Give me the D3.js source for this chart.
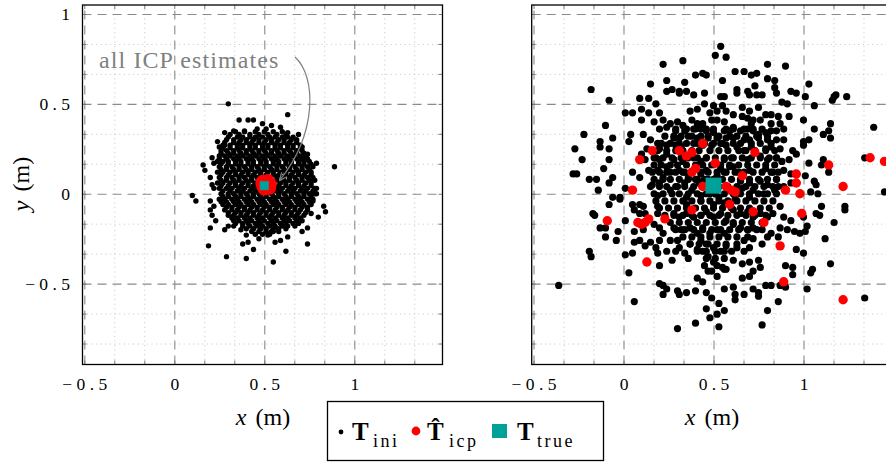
<!DOCTYPE html>
<html><head><meta charset="utf-8">
<script src="https://cdn.jsdelivr.net/npm/d3@7"></script>
<style>body{margin:0;background:#fff}svg{display:block}svg text{font-family:"Liberation Serif","Times New Roman",serif}</style>
</head><body><svg id="c" width="886" height="464"></svg>
<script>
// ---------------- data ----------------
const xDomain = [-0.51, 1.49];
const yDomain = [-0.95, 1.05];
const majorTicks = [-0.5, 0, 0.5, 1];
const majorTickLabels = ["\u2212 0 . 5", "0", "0 . 5", "1"];
const minorTicksX = [-0.8333, -0.6667, -0.3333, -0.1667, 0.1667, 0.3333, 0.6667, 0.8333, 1.1667, 1.3333];
const minorTicksY = [-0.8333, -0.6667, -0.3333, -0.1667, 0.1667, 0.3333, 0.6667, 0.8333];
const trueT = [[0.5, 0.045]];

// left panel: ICP estimates all collapse at the true pose
const leftIcp = [[0.50,0.05],[0.52,0.06],[0.49,0.04],[0.53,0.04],[0.51,0.07],[0.51,0.03],[0.52,0.05],[0.485,0.06],[0.535,0.055],[0.50,0.025],[0.52,0.075],[0.49,0.07],[0.53,0.03]];
// left panel: initial guesses, scattered outliers
const leftIniOuter = [[0.30,0.50],[0.63,0.44],[0.36,0.41],[0.41,0.41],[0.44,0.41],[0.49,0.39],[0.54,0.38],[0.59,0.37],[0.28,0.34],[0.33,0.35],[0.39,0.35],[0.46,0.36],[0.51,0.36],[0.63,0.34],[0.69,0.33],[0.24,0.29],[0.25,0.26],[0.28,0.27],[0.71,0.26],[0.74,0.22],[0.73,0.19],[0.79,0.17],[0.75,0.13],[0.89,0.15],[0.16,0.16],[0.17,0.13],[0.21,0.20],[0.22,0.17],[0.20,0.09],[0.21,0.05],[0.22,0.03],[0.10,-0.01],[0.12,-0.04],[0.79,0.03],[0.79,0.00],[0.77,-0.04],[0.83,-0.07],[0.84,-0.10],[0.80,-0.13],[0.76,-0.11],[0.74,-0.19],[0.71,-0.21],[0.63,-0.24],[0.59,-0.26],[0.56,-0.27],[0.74,-0.28],[0.20,-0.04],[0.22,-0.07],[0.20,-0.09],[0.21,-0.12],[0.23,-0.15],[0.20,-0.19],[0.28,-0.20],[0.37,-0.20],[0.40,-0.23],[0.38,-0.28],[0.41,-0.27],[0.44,-0.31],[0.47,-0.25],[0.52,-0.23],[0.54,-0.21],[0.19,-0.29],[0.29,-0.35],[0.40,-0.36],[0.55,-0.38],[0.62,-0.32]];
// left panel: dense core, read row by row: [y, [x values]]
const leftIniCoreRows = [
 [0.345,[0.34,0.39,0.45,0.50,0.55,0.60]],
 [0.33,[0.31,0.36,0.42,0.47,0.52,0.57,0.62]],
 [0.315,[0.30,0.35,0.38,0.42,0.45,0.49,0.53,0.56,0.60,0.63,0.66]],
 [0.30,[0.29,0.33,0.37,0.40,0.44,0.47,0.51,0.54,0.58,0.61,0.65,0.68]],
 [0.285,[0.28,0.33,0.36,0.40,0.43,0.47,0.50,0.54,0.57,0.61,0.64,0.68]],
 [0.27,[0.27,0.31,0.35,0.38,0.42,0.45,0.49,0.52,0.56,0.59,0.63,0.66,0.70]],
 [0.255,[0.27,0.31,0.35,0.38,0.42,0.45,0.49,0.52,0.56,0.59,0.63,0.66,0.70]],
 [0.24,[0.26,0.29,0.33,0.36,0.40,0.43,0.47,0.50,0.54,0.57,0.61,0.64,0.68,0.71]],
 [0.225,[0.26,0.30,0.33,0.37,0.40,0.44,0.47,0.51,0.54,0.58,0.61,0.65,0.68,0.72]],
 [0.21,[0.25,0.28,0.31,0.35,0.38,0.42,0.45,0.49,0.52,0.56,0.59,0.63,0.66,0.70,0.73]],
 [0.195,[0.25,0.29,0.33,0.36,0.40,0.43,0.47,0.50,0.54,0.57,0.61,0.64,0.68,0.71,0.74]],
 [0.18,[0.24,0.27,0.30,0.34,0.37,0.41,0.44,0.48,0.51,0.55,0.58,0.62,0.65,0.69,0.72,0.75]],
 [0.165,[0.26,0.30,0.34,0.37,0.41,0.44,0.48,0.51,0.55,0.58,0.62,0.65,0.69,0.72,0.76]],
 [0.15,[0.25,0.29,0.32,0.36,0.39,0.43,0.46,0.50,0.53,0.57,0.60,0.64,0.67,0.71,0.74,0.77]],
 [0.135,[0.26,0.29,0.33,0.36,0.40,0.43,0.47,0.50,0.54,0.57,0.61,0.64,0.68,0.71,0.75]],
 [0.12,[0.24,0.27,0.31,0.34,0.38,0.41,0.45,0.48,0.52,0.55,0.59,0.62,0.66,0.69,0.73,0.76]],
 [0.105,[0.26,0.30,0.34,0.37,0.41,0.44,0.48,0.51,0.55,0.58,0.62,0.65,0.69,0.72,0.76]],
 [0.09,[0.25,0.29,0.32,0.36,0.39,0.43,0.46,0.50,0.53,0.57,0.60,0.64,0.67,0.71,0.74,0.77]],
 [0.075,[0.26,0.29,0.33,0.36,0.40,0.43,0.47,0.50,0.54,0.57,0.61,0.64,0.68,0.71,0.75,0.78]],
 [0.06,[0.24,0.27,0.31,0.34,0.38,0.41,0.45,0.48,0.52,0.55,0.59,0.62,0.66,0.69,0.73,0.76]],
 [0.045,[0.26,0.30,0.34,0.37,0.41,0.44,0.48,0.51,0.55,0.58,0.62,0.65,0.69,0.72,0.76]],
 [0.03,[0.25,0.29,0.32,0.36,0.39,0.43,0.46,0.50,0.53,0.57,0.60,0.64,0.67,0.71,0.74,0.78]],
 [0.015,[0.27,0.31,0.35,0.38,0.42,0.45,0.49,0.52,0.56,0.59,0.63,0.66,0.70,0.73,0.77]],
 [0.00,[0.26,0.30,0.33,0.37,0.40,0.44,0.47,0.51,0.54,0.58,0.61,0.65,0.68,0.72,0.75,0.78]],
 [-0.015,[0.27,0.30,0.34,0.37,0.41,0.44,0.48,0.51,0.55,0.58,0.62,0.65,0.69,0.72,0.76]],
 [-0.03,[0.25,0.28,0.32,0.35,0.39,0.42,0.46,0.49,0.53,0.56,0.60,0.63,0.67,0.70,0.74,0.77]],
 [-0.045,[0.26,0.29,0.33,0.36,0.40,0.43,0.47,0.50,0.54,0.57,0.61,0.64,0.68,0.71,0.75]],
 [-0.06,[0.27,0.30,0.34,0.37,0.41,0.44,0.48,0.51,0.55,0.58,0.62,0.65,0.69,0.72,0.76]],
 [-0.075,[0.29,0.32,0.36,0.39,0.43,0.46,0.50,0.53,0.57,0.60,0.64,0.67,0.71,0.74]],
 [-0.09,[0.28,0.32,0.35,0.39,0.42,0.46,0.49,0.53,0.56,0.60,0.63,0.67,0.70,0.74]],
 [-0.105,[0.30,0.34,0.37,0.41,0.44,0.48,0.51,0.55,0.58,0.62,0.65,0.69,0.73]],
 [-0.12,[0.30,0.33,0.37,0.40,0.44,0.47,0.51,0.54,0.58,0.61,0.65,0.68,0.72]],
 [-0.135,[0.32,0.35,0.39,0.42,0.46,0.49,0.53,0.56,0.60,0.63,0.67,0.70]],
 [-0.15,[0.33,0.36,0.40,0.43,0.47,0.50,0.54,0.57,0.61,0.64,0.68,0.71]],
 [-0.165,[0.34,0.38,0.41,0.45,0.48,0.52,0.55,0.59,0.62,0.66,0.69]],
 [-0.18,[0.30,0.33,0.38,0.42,0.46,0.49,0.53,0.56,0.60,0.63,0.67]],
 [-0.195,[0.40,0.44,0.48,0.51,0.55,0.58,0.62]],
 [-0.21,[0.43,0.47,0.51,0.55,0.58]],
 [-0.225,[0.45,0.49,0.53]]
];

// right panel: initial guesses (scattered, read point by point)
const rightIni = [[0.54,0.82],[0.51,0.77],[0.57,0.76],[0.33,0.74],[0.22,0.72],[0.40,0.66],[0.44,0.67],[0.46,0.66],[0.15,0.61],[0.24,0.63],[0.34,0.62],[0.55,0.63],[-0.18,0.58],[0.24,0.57],[0.27,0.58],[0.31,0.57],[0.31,0.56],[0.35,0.57],[0.39,0.55],[0.45,0.56],[0.54,0.54],[0.56,0.54],[-0.08,0.52],[0.09,0.53],[0.14,0.53],[0.18,0.50],[0.45,0.50],[0.50,0.49],[0.55,0.49],[0.01,0.45],[0.05,0.45],[0.10,0.47],[0.14,0.45],[0.10,0.41],[0.20,0.45],[0.37,0.46],[0.41,0.47],[0.48,0.45],[0.52,0.46],[0.57,0.46],[-0.10,0.38],[0.17,0.40],[0.22,0.41],[0.26,0.39],[0.30,0.40],[0.33,0.38],[0.38,0.41],[0.41,0.39],[0.44,0.39],[0.49,0.41],[0.52,0.41],[0.56,0.40],[-0.22,0.33],[0.04,0.33],[0.11,0.33],[0.20,0.36],[0.24,0.37],[0.29,0.35],[0.34,0.35],[0.39,0.36],[0.43,0.36],[0.46,0.35],[0.50,0.34],[0.56,0.35],[0.59,0.35],[-0.13,0.29],[-0.06,0.31],[0.03,0.29],[0.15,0.30],[0.19,0.28],[0.24,0.27],[0.28,0.31],[0.31,0.31],[0.36,0.32],[0.41,0.31],[0.47,0.31],[0.52,0.31],[0.57,0.31],[-0.27,0.25],[-0.13,0.26],[-0.08,0.25],[0.10,0.22],[0.13,0.25],[0.20,0.25],[0.24,0.22],[0.29,0.27],[0.32,0.26],[0.39,0.28],[0.44,0.27],[0.49,0.27],[0.54,0.28],[0.57,0.27],[-0.08,0.19],[0.12,0.19],[0.17,0.20],[0.20,0.19],[0.24,0.15],[0.28,0.19],[0.33,0.18],[0.39,0.20],[0.43,0.18],[0.46,0.20],[0.56,0.19],[-0.28,0.11],[-0.26,0.11],[-0.11,0.14],[0.05,0.12],[0.09,0.09],[0.14,0.13],[0.19,0.13],[0.22,0.09],[0.26,0.12],[0.31,0.13],[0.34,0.12],[0.43,0.11],[0.46,0.13],[0.56,0.12],[0.59,0.15],[-0.19,0.08],[-0.15,0.08],[-0.08,0.06],[-0.06,0.09],[0.01,0.03],[0.16,0.05],[0.20,0.06],[0.26,0.02],[0.30,0.04],[0.34,0.06],[0.38,0.02],[0.42,0.06],[0.46,0.04],[0.59,0.02],[-0.14,0.02],[-0.06,-0.02],[-0.02,-0.02],[0.19,-0.01],[0.35,-0.02],[0.43,-0.01],[-0.23,0.19],
[0.62,0.68],[0.67,0.68],[0.71,0.66],[0.74,0.67],[0.80,0.72],[0.90,0.71],[0.80,0.64],[0.84,0.63],[0.63,0.58],[0.63,0.56],[0.69,0.57],[0.70,0.55],[0.73,0.60],[0.77,0.55],[0.74,0.55],[0.84,0.59],[0.85,0.56],[0.93,0.57],[0.96,0.56],[1.03,0.61],[1.01,0.54],[1.17,0.54],[1.16,0.52],[1.18,0.55],[1.24,0.54],[0.88,0.51],[0.91,0.50],[1.06,0.49],[0.66,0.48],[0.70,0.46],[0.75,0.48],[0.79,0.44],[0.82,0.44],[0.86,0.43],[0.92,0.43],[0.61,0.44],[0.66,0.43],[0.69,0.42],[0.72,0.41],[0.76,0.41],[0.71,0.39],[0.82,0.39],[0.87,0.39],[1.00,0.41],[1.15,0.39],[1.14,0.35],[1.11,0.33],[1.15,0.31],[1.06,0.36],[1.39,0.37],[0.61,0.37],[0.65,0.35],[0.69,0.36],[0.72,0.35],[0.75,0.33],[0.79,0.34],[0.82,0.35],[0.85,0.35],[0.89,0.36],[0.61,0.31],[0.67,0.30],[0.70,0.30],[0.75,0.31],[0.80,0.30],[0.85,0.30],[0.89,0.30],[1.00,0.29],[1.03,0.30],[0.63,0.26],[0.67,0.24],[0.71,0.26],[0.79,0.25],[0.82,0.26],[0.87,0.25],[0.94,0.24],[0.96,0.22],[1.00,0.27],[0.61,0.20],[0.69,0.19],[0.76,0.21],[0.80,0.19],[0.85,0.20],[0.88,0.18],[0.92,0.19],[1.03,0.17],[1.11,0.19],[1.10,0.16],[1.34,0.20],[1.14,0.12],[0.61,0.15],[0.70,0.13],[0.79,0.14],[0.83,0.12],[0.89,0.13],[0.93,0.11],[1.01,0.10],[1.06,0.07],[1.07,0.05],[1.04,0.01],[1.08,0.00],[0.65,0.07],[0.70,0.06],[0.76,0.07],[0.80,0.05],[0.85,0.08],[0.93,0.06],[0.72,0.02],[0.78,0.00],[0.84,0.02],[0.89,0.04],[1.45,0.01],
[-0.08,-0.06],[-0.02,-0.03],[-0.17,-0.11],[-0.16,-0.12],[-0.13,-0.19],[-0.10,-0.19],[-0.10,-0.24],[-0.03,-0.21],[-0.04,-0.26],[-0.19,-0.32],[-0.18,-0.35],[-0.36,-0.51],[0.01,-0.15],[0.01,-0.34],[0.05,-0.06],[0.06,-0.09],[0.09,-0.06],[0.11,-0.07],[0.09,-0.11],[0.12,-0.11],[0.06,-0.27],[0.05,-0.33],[0.09,-0.26],[0.12,-0.29],[0.15,-0.27],[0.18,-0.30],[0.19,-0.33],[0.03,-0.44],[0.06,-0.21],[0.11,-0.20],[0.19,-0.11],[0.19,-0.07],[0.17,-0.17],[0.20,-0.19],[0.22,-0.22],[0.26,-0.26],[0.20,-0.26],[0.20,-0.40],[0.24,-0.32],[0.29,-0.32],[0.27,-0.37],[0.30,-0.26],[0.31,-0.30],[0.34,-0.33],[0.36,-0.36],[0.20,-0.50],[0.22,-0.51],[0.24,-0.53],[0.22,-0.56],[0.30,-0.54],[0.31,-0.56],[0.35,-0.55],[0.40,-0.54],[0.41,-0.47],[0.06,-0.60],[0.30,-0.75],[0.40,-0.72],[0.46,-0.64],[0.48,-0.69],[0.53,-0.74],[0.44,-0.49],[0.46,-0.55],[0.49,-0.58],[0.53,-0.61],[0.56,-0.65],[0.56,-0.53],[0.56,-0.42],[0.28,-0.11],[0.31,-0.13],[0.35,-0.11],[0.39,-0.13],[0.43,-0.12],[0.46,-0.10],[0.50,-0.13],[0.54,-0.11],[0.57,-0.15],[0.28,-0.19],[0.32,-0.20],[0.37,-0.19],[0.41,-0.22],[0.44,-0.19],[0.48,-0.22],[0.52,-0.20],[0.56,-0.22],[0.37,-0.28],[0.41,-0.31],[0.44,-0.32],[0.47,-0.35],[0.50,-0.38],[0.52,-0.40],[0.49,-0.43],[0.52,-0.46],[0.55,-0.41],[0.57,-0.42],[0.43,-0.26],[0.46,-0.28],[0.50,-0.30],[0.54,-0.32],[0.57,-0.29],[0.45,-0.40],[0.47,-0.43],[0.35,-0.06],[0.43,-0.04],[0.50,-0.06],[0.56,-0.05],
[0.87,-0.07],[0.83,-0.11],[0.89,-0.13],[0.93,-0.15],[0.87,-0.19],[0.82,-0.22],[0.86,-0.24],[0.91,-0.20],[0.95,-0.21],[0.98,-0.22],[1.01,-0.21],[1.02,-0.18],[1.00,-0.13],[1.07,-0.11],[1.09,-0.12],[1.10,-0.07],[1.17,-0.16],[1.23,-0.07],[1.23,-0.09],[1.12,-0.25],[0.96,-0.31],[1.00,-0.33],[1.15,-0.39],[1.05,-0.42],[1.04,-0.44],[0.90,-0.40],[0.94,-0.41],[0.94,-0.45],[1.02,-0.53],[1.34,-0.58],[0.61,-0.09],[0.65,-0.11],[0.69,-0.10],[0.72,-0.13],[0.76,-0.11],[0.80,-0.13],[0.61,-0.17],[0.65,-0.19],[0.69,-0.20],[0.72,-0.19],[0.77,-0.20],[0.80,-0.24],[0.67,-0.26],[0.72,-0.25],[0.77,-0.28],[0.63,-0.30],[0.67,-0.32],[0.70,-0.30],[0.61,-0.37],[0.66,-0.39],[0.70,-0.38],[0.75,-0.37],[0.72,-0.43],[0.76,-0.41],[0.66,-0.47],[0.70,-0.46],[0.79,-0.51],[0.82,-0.51],[0.87,-0.51],[0.90,-0.52],[0.75,-0.55],[0.72,-0.53],[0.61,-0.52],[0.62,-0.56],[0.67,-0.56],[0.62,-0.59],[0.86,-0.60],[0.80,-0.65],[0.77,-0.73],[0.75,-0.57],[0.52,-0.67],
[0.48,0.00],[0.53,-0.02],[0.62,-0.03],[0.66,0.03],[0.70,-0.02],[0.40,0.08],[0.52,0.10],[0.36,0.09],[0.64,0.12],[0.54,0.14],[0.47,0.08]];
// right panel: dense core of initial guesses, row by row: [y, [x values]]
const rightIniCoreRows = [
 [0.36,[0.29,0.35,0.40,0.46,0.50,0.57,0.61,0.67,0.72,0.77]],
 [0.32,[0.23,0.28,0.32,0.38,0.43,0.47,0.53,0.59,0.63,0.68,0.74,0.80]],
 [0.28,[0.21,0.26,0.31,0.35,0.41,0.45,0.50,0.55,0.61,0.65,0.71,0.76,0.82]],
 [0.24,[0.19,0.24,0.29,0.33,0.38,0.42,0.48,0.53,0.58,0.64,0.68,0.73,0.79,0.84]],
 [0.20,[0.18,0.22,0.27,0.32,0.36,0.41,0.46,0.51,0.56,0.60,0.66,0.71,0.76,0.81,0.85]],
 [0.16,[0.17,0.21,0.26,0.30,0.35,0.40,0.44,0.49,0.54,0.59,0.64,0.69,0.74,0.79,0.84]],
 [0.12,[0.16,0.20,0.24,0.29,0.33,0.38,0.43,0.47,0.52,0.57,0.62,0.67,0.72,0.77,0.82,0.86]],
 [0.08,[0.17,0.22,0.26,0.31,0.36,0.41,0.45,0.50,0.55,0.60,0.65,0.70,0.75,0.80,0.85]],
 [0.04,[0.15,0.20,0.24,0.29,0.34,0.39,0.44,0.48,0.53,0.58,0.63,0.68,0.73,0.78,0.83,0.86]],
 [0.00,[0.17,0.22,0.27,0.31,0.36,0.41,0.46,0.51,0.56,0.61,0.65,0.70,0.75,0.80,0.85]],
 [-0.04,[0.18,0.23,0.28,0.33,0.38,0.43,0.48,0.53,0.58,0.63,0.68,0.73,0.78,0.83]],
 [-0.08,[0.20,0.25,0.30,0.35,0.40,0.45,0.50,0.55,0.60,0.65,0.70,0.76,0.81]],
 [-0.12,[0.23,0.28,0.33,0.38,0.43,0.48,0.53,0.58,0.63,0.68,0.73,0.79]],
 [-0.16,[0.26,0.31,0.36,0.41,0.46,0.51,0.56,0.61,0.66,0.71,0.77]],
 [-0.20,[0.29,0.34,0.39,0.44,0.49,0.54,0.59,0.64,0.69,0.74]],
 [-0.24,[0.33,0.38,0.43,0.48,0.53,0.58,0.63,0.69]],
 [-0.28,[0.37,0.42,0.47,0.52,0.57,0.63]],
 [-0.32,[0.41,0.46,0.51,0.56,0.60]],
 [-0.36,[0.46,0.51,0.56]]
];

// right panel: ICP estimates
const rightIcp = [[0.05,0.02],[0.09,0.19],[0.16,0.24],[0.31,0.24],[0.35,0.21],[0.38,0.23],[0.44,0.28],[0.38,0.12],[0.40,0.14],[0.51,0.17],[0.57,0.04],[0.60,0.02],[0.62,0.01],[0.44,0.04],[0.73,0.23],[0.66,0.10],[0.96,0.11],[0.96,0.06],[0.98,0.00],[0.90,0.02],[1.14,0.16],[1.22,0.04],[1.37,0.20],[1.45,0.18],[-0.09,-0.15],[0.08,-0.16],[0.10,-0.17],[0.12,-0.16],[0.14,-0.14],[0.23,-0.14],[0.38,-0.09],[0.13,-0.38],[0.59,-0.06],[0.72,-0.10],[0.78,-0.16],[0.99,-0.11],[0.87,-0.29],[0.89,-0.49],[1.22,-0.59]];

const annotationText = "all ICP estimates";

// ---------------- drawing ----------------
const svg = d3.select("#c");
const y = d3.scaleLinear().domain(yDomain).range([364.5, 5]);
const rowsToPoints = rows => rows.flatMap(([yy, xs]) => xs.map(xx => [xx, yy]));
const SERIF = "Liberation Serif";

const defs = svg.append("defs");
defs.append("marker").attr("id","arr").attr("viewBox","0 0 10 10").attr("refX",8).attr("refY",5)
  .attr("markerWidth",10).attr("markerHeight",10).attr("markerUnits","userSpaceOnUse").attr("orient","auto")
  .append("path").attr("d","M1,1.5 L8.5,5 L1,8.5").attr("fill","none").attr("stroke","#808080").attr("stroke-width",1.2);

function panel(id, x0, x1, opts) {
  const x = d3.scaleLinear().domain(xDomain).range([x0, x1]);
  const top = 5, bot = 364.5;
  const g = svg.append("g");
  defs.append("clipPath").attr("id", id).append("rect").attr("x", x0).attr("y", top).attr("width", x1 - x0).attr("height", bot - top);
  const minX = minorTicksX.filter(v => x(v) > x0 + 1 && x(v) < x1 - 1);

  const grid = (s, col, w, dash) => { s.select(".domain").remove(); s.selectAll("line").attr("stroke", col).attr("stroke-width", w).attr("stroke-dasharray", dash); };
  // minor dotted grid
  g.append("g").attr("transform", `translate(0,${bot})`)
    .call(d3.axisBottom(x).tickValues(minX).tickSize(-(bot - top)).tickFormat(""))
    .call(s => grid(s, "#bdbdbd", 0.9, "1,3.6"));
  g.append("g").attr("transform", `translate(${x0},0)`)
    .call(d3.axisLeft(y).tickValues(minorTicksY).tickSize(-(x1 - x0)).tickFormat(""))
    .call(s => grid(s, "#bdbdbd", 0.9, "1,3.6"));
  // major dashed grid
  g.append("g").attr("transform", `translate(0,${bot})`)
    .call(d3.axisBottom(x).tickValues(majorTicks).tickSize(-(bot - top)).tickFormat(""))
    .call(s => grid(s, "#8a8a8a", 1.1, "9,6"));
  g.append("g").attr("transform", `translate(${x0},0)`)
    .call(d3.axisLeft(y).tickValues(majorTicks).tickSize(-(x1 - x0)).tickFormat(""))
    .call(s => grid(s, "#8a8a8a", 1.1, "9,6"));

  // inward tick marks on all sides
  const allX = majorTicks.concat(minX);
  const allY = majorTicks.concat(minorTicksY);
  const tk = (s) => { s.select(".domain").remove(); s.selectAll("line").attr("stroke","#7a7a7a").attr("stroke-width",1); };
  g.append("g").attr("transform", `translate(0,${bot})`).call(d3.axisBottom(x).tickValues(allX).tickSize(-4).tickFormat("")).call(tk);
  g.append("g").attr("transform", `translate(0,${top})`).call(d3.axisTop(x).tickValues(allX).tickSize(-4).tickFormat("")).call(tk);
  g.append("g").attr("transform", `translate(${x0},0)`).call(d3.axisLeft(y).tickValues(allY).tickSize(-4).tickFormat("")).call(tk);
  g.append("g").attr("transform", `translate(${x1},0)`).call(d3.axisRight(y).tickValues(allY).tickSize(-4).tickFormat("")).call(tk);

  // tick labels
  const lab = s => { s.select(".domain").remove(); s.attr("font-family", SERIF); s.selectAll("text").attr("font-size",17.5).attr("fill","#000"); };
  g.append("g").attr("transform", `translate(0,${bot})`)
    .call(d3.axisBottom(x).tickValues(majorTicks).tickSize(0).tickPadding(13).tickFormat((d, i) => majorTickLabels[i]))
    .call(lab);
  if (opts.yLabels) {
    g.append("g").attr("transform", `translate(${x0},0)`)
      .call(d3.axisLeft(y).tickValues(majorTicks).tickSize(0).tickPadding(12.5).tickFormat((d, i) => majorTickLabels[i]))
      .call(lab);
  }

  // marks
  const m = g.append("g").attr("clip-path", `url(#${id})`);
  m.selectAll("circle.ini").data(opts.ini).join("circle").attr("class","ini")
    .attr("cx", d => x(d[0])).attr("cy", d => y(d[1])).attr("r", opts.rIni).attr("fill","#000");
  m.selectAll("circle.icp").data(opts.icp).join("circle").attr("class","icp")
    .attr("cx", d => x(d[0])).attr("cy", d => y(d[1])).attr("r", opts.rIcp).attr("fill","#ff0000");
  m.selectAll("rect.true").data(trueT).join("rect").attr("class","true")
    .attr("x", d => x(d[0]) - opts.sTrue / 2).attr("y", d => y(d[1]) - opts.sTrue / 2)
    .attr("width", opts.sTrue).attr("height", opts.sTrue).attr("fill","#00a199");

  // frame
  g.append("rect").attr("x", x0).attr("y", top).attr("width", x1 - x0).attr("height", bot - top)
    .attr("fill","none").attr("stroke","#000").attr("stroke-width",1.3);

  // x label
  const xl = g.append("text").attr("x", opts.xLabelX).attr("y", 425).attr("text-anchor","middle").attr("font-size",24);
  xl.append("tspan").attr("font-style","italic").text("x");
  xl.append("tspan").attr("dx",9).text("(m)");
  return x;
}

panel("clipL", 82.5, 442.5, { yLabels: true, xLabelX: 263, ini: leftIniOuter.concat(rowsToPoints(leftIniCoreRows)), icp: leftIcp, rIni: 2.7, rIcp: 6.3, sTrue: 9 });
panel("clipR", 531.7, 891.7, { yLabels: false, xLabelX: 712, ini: rightIni.concat(rowsToPoints(rightIniCoreRows)), icp: rightIcp, rIni: 3.6, rIcp: 4.7, sTrue: 16 });

// y label
const yl = svg.append("text").attr("transform","translate(29,184) rotate(-90)").attr("text-anchor","middle").attr("font-size",24);
yl.append("tspan").attr("font-style","italic").text("y");
yl.append("tspan").attr("dx",9).text("(m)");

// annotation
svg.append("text").attr("x",99).attr("y",68).attr("font-size",24).attr("letter-spacing",1.1).attr("fill","#808080").text(annotationText);
svg.append("path").attr("d","M295,57 C316,76 318,132 280,180").attr("fill","none")
  .attr("stroke","#808080").attr("stroke-width",1.2).attr("marker-end","url(#arr)");

// legend
const lg = svg.append("g");
lg.append("rect").attr("x",327.5).attr("y",401.5).attr("width",276).attr("height",59).attr("fill","#fff").attr("stroke","#000").attr("stroke-width",1.3);
const sub = (xx, t) => lg.append("text").attr("x",xx).attr("y",447).attr("font-size",18).attr("letter-spacing",2.5).text(t);
const bigT = (xx, t) => lg.append("text").attr("x",xx).attr("y",440).attr("font-size",25).attr("font-weight","bold").text(t);
lg.append("circle").attr("cx",341).attr("cy",432).attr("r",2.4).attr("fill","#000");
bigT(352, "T"); sub(373, "ini");
lg.append("circle").attr("cx",416).attr("cy",431).attr("r",4.4).attr("fill","#ff0000");
bigT(427, "T\u0302"); sub(449, "icp");
lg.append("rect").attr("x",492).attr("y",424).attr("width",15).attr("height",14).attr("fill","#00a199");
bigT(517, "T"); sub(537, "true");
</script></body></html>
